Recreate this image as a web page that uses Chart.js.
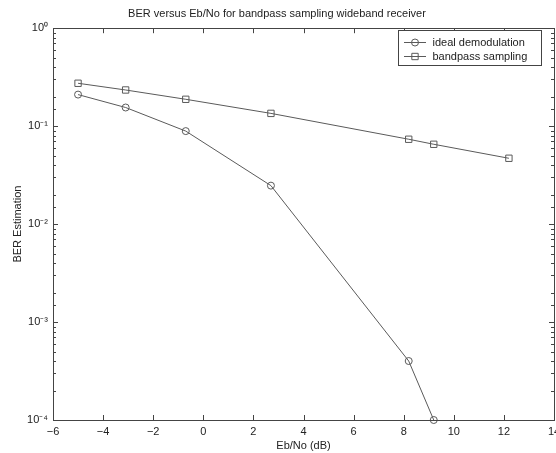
<!DOCTYPE html>
<html>
<head>
<meta charset="utf-8">
<script src="https://cdn.jsdelivr.net/npm/chart.js@4/dist/chart.umd.min.js"></script>
<style>
  html, body { margin: 0; padding: 0; background: #fff; }
  #wrap { width: 556px; height: 453px; }
</style>
</head>
<body>
<div id="wrap"><canvas id="berChart"></canvas></div>
<script>
// BER vs Eb/No
const ebno = [-5, -3.1, -0.7, 2.7, 8.2, 9.2, 12.2];
const idealBer = [0.21, 0.155, 0.089, 0.0247, 0.0004, 0.0001];
const bandpassBer = [0.274, 0.234, 0.188, 0.135, 0.0735, 0.0653, 0.047];
const xTicks = [-6, -4, -2, 0, 2, 4, 6, 8, 10, 12, 14];
const yDecades = [1e-4, 1e-3, 1e-2, 1e-1, 1];

const FONT = "'Liberation Sans', Arial, Helvetica, sans-serif";
const INK = "#222";
const LINE = "#5a5a5a";

const sup = { "0": "\u2070", "1": "\u00b9", "2": "\u00b2", "3": "\u00b3", "4": "\u2074", "-": "\u207b" };
function decadeLabel(v) {
    const e = Math.round(Math.log10(v));
    return "10" + String(e).split("").map(c => sup[c]).join("");
}

const toPoints = ys => ys.map((y, i) => ({ x: ebno[i], y }));

// inward tick marks + box round the plot, like the matlab axes
const axesBox = {
    id: "axesBox",
    afterDatasetsDraw(chart) {
        const { ctx, chartArea: a, scales } = chart;
        ctx.save();
        ctx.strokeStyle = "#444";
        ctx.lineWidth = 1;
        ctx.beginPath();
        xTicks.forEach(v => {
            const px = Math.round(scales.x.getPixelForValue(v)) + 0.5;
            ctx.moveTo(px, a.bottom); ctx.lineTo(px, a.bottom - 5);
            ctx.moveTo(px, a.top); ctx.lineTo(px, a.top + 5);
        });
        scales.y.ticks.forEach(t => {
            const py = Math.round(scales.y.getPixelForValue(t.value)) + 0.5;
            const major = Math.abs(Math.log10(t.value) - Math.round(Math.log10(t.value))) < 1e-6;
            const len = major ? 5 : 3;
            ctx.moveTo(a.left, py); ctx.lineTo(a.left + len, py);
            ctx.moveTo(a.right, py); ctx.lineTo(a.right - len, py);
        });
        ctx.stroke();
        ctx.strokeRect(Math.round(a.left) + 0.5, Math.round(a.top) + 0.5,
            Math.round(a.right - a.left), Math.round(a.bottom - a.top));
        ctx.restore();
    }
};

// boxed legend in the top right corner
const boxLegend = {
    id: "boxLegend",
    afterDraw(chart) {
        const { ctx, chartArea: a } = chart;
        const left = Math.round(a.right - 156), top = Math.round(a.top + 2), w = 143, h = 35;
        ctx.save();
        ctx.fillStyle = "#fff";
        ctx.fillRect(left, top, w, h);
        ctx.strokeStyle = "#444";
        ctx.lineWidth = 1;
        ctx.strokeRect(left + 0.5, top + 0.5, w, h);
        ctx.font = "11px " + FONT;
        ctx.textBaseline = "middle";
        chart.data.datasets.forEach((ds, i) => {
            const y = top + 12.5 + i * 14;
            ctx.strokeStyle = ds.borderColor;
            ctx.fillStyle = "rgba(0,0,0,0)";
            ctx.beginPath();
            ctx.moveTo(left + 6, y); ctx.lineTo(left + 28, y);
            ctx.stroke();
            Chart.helpers.drawPoint(ctx, {
                pointStyle: ds.pointStyle, rotation: 0,
                radius: ds.pointRadius, borderWidth: 1
            }, left + 17, y);
            ctx.fillStyle = INK;
            ctx.fillText(ds.label, left + 34.5, y);
        });
        ctx.restore();
    }
};

new Chart(document.getElementById("berChart"), {
    type: "line",
    data: {
        datasets: [
            {
                label: "ideal demodulation",
                data: toPoints(idealBer),
                borderColor: LINE,
                borderWidth: 1,
                pointStyle: "circle",
                pointRadius: 3.5,
                pointBorderColor: LINE,
                pointBackgroundColor: "rgba(0,0,0,0)",
                tension: 0,
                clip: false
            },
            {
                label: "bandpass sampling",
                data: toPoints(bandpassBer),
                borderColor: LINE,
                borderWidth: 1,
                pointStyle: "rect",
                pointRadius: 4.5,
                pointBorderColor: LINE,
                pointBackgroundColor: "rgba(0,0,0,0)",
                tension: 0,
                clip: false
            }
        ]
    },
    options: {
        responsive: true,
        maintainAspectRatio: false,
        animation: false,
        layout: { autoPadding: false, padding: { left: 0, right: 2, top: 0, bottom: 0 } },
        plugins: {
            legend: { display: false },
            tooltip: { enabled: false },
            title: {
                display: true,
                text: "BER versus Eb/No for bandpass sampling wideband receiver",
                color: INK,
                font: { family: FONT, size: 11, weight: "normal" },
                padding: { top: 7, bottom: 8 }
            }
        },
        scales: {
            x: {
                type: "linear",
                min: -6,
                max: 14,
                grid: { display: false, drawTicks: false },
                border: { display: false },
                ticks: {
                    stepSize: 2,
                    padding: 5,
                    color: INK,
                    font: { family: FONT, size: 11 },
                    maxRotation: 0,
                    callback: v => (v < 0 ? "\u2212" + Math.abs(v) : String(v))
                },
                title: {
                    display: true,
                    text: "Eb/No (dB)",
                    color: INK,
                    font: { family: FONT, size: 11 },
                    padding: { top: 0, bottom: 0 }
                },
                afterFit(scale) {
                    scale.height = 33;
                    scale.paddingLeft = 0;
                    scale.paddingRight = 0;
                }
            },
            y: {
                type: "logarithmic",
                min: 1e-4,
                max: 1,
                grid: { display: false, drawTicks: false },
                border: { display: false },
                ticks: {
                    autoSkip: false,
                    padding: 5,
                    color: INK,
                    font: { family: FONT, size: 11 },
                    callback: v => (yDecades.some(d => Math.abs(d - v) / d < 1e-6) ? decadeLabel(v) : "")
                },
                title: {
                    display: true,
                    text: "BER Estimation",
                    color: INK,
                    font: { family: FONT, size: 11 },
                    padding: { top: 11, bottom: 0 }
                },
                afterFit(scale) {
                    scale.width = 53;
                    scale.paddingTop = 0;
                    scale.paddingBottom = 0;
                }
            }
        }
    },
    plugins: [axesBox, boxLegend]
});
</script>
</body>
</html>
